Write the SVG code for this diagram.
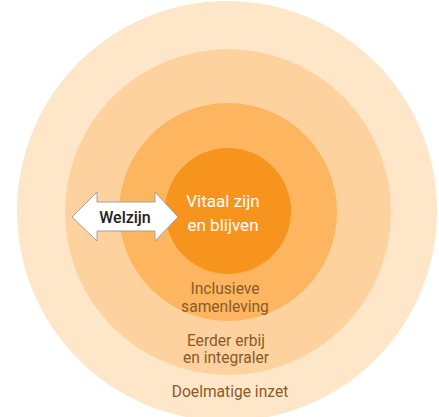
<svg xmlns="http://www.w3.org/2000/svg" width="439" height="417" viewBox="0 0 439 417">
<style>
.lbl{font-family:Roboto,"Liberation Sans",sans-serif;text-anchor:middle}
.brown{fill:#8a5a2c;font-size:15.6px}
.white{fill:#ffffff;font-size:17px}
.dark{fill:#222222;font-size:16px;font-weight:500}
</style>
<rect width="439" height="417" fill="#ffffff"/>
<g id="ring-doelmatige-inzet">
<circle cx="227" cy="211" r="210" fill="#fee6c8"/>
<text class="lbl brown" x="230" y="397">Doelmatige inzet</text>
</g>
<g id="ring-eerder-erbij">
<circle cx="228" cy="212" r="163" fill="#fed29e"/>
<text class="lbl brown" x="226" y="346">Eerder erbij</text>
<text class="lbl brown" x="226" y="363">en integraler</text>
</g>
<g id="ring-inclusieve-samenleving">
<circle cx="228" cy="212" r="109" fill="#fdb65f"/>
<text class="lbl brown" x="225" y="294">Inclusieve</text>
<text class="lbl brown" x="225" y="312">samenleving</text>
</g>
<g id="core-vitaal">
<circle cx="228" cy="211" r="63" fill="#f7941e"/>
<text class="lbl white" x="223" y="207">Vitaal zijn</text>
<text class="lbl white" x="223" y="231">en blijven</text>
</g>
<g id="welzijn">
<polygon points="72,217 97,192 97,202 155,202 155,192 178,217 155,241 155,231 97,231 97,241" fill="#ffffff" stroke="#a0a0a0" stroke-width="1"/>
<text class="lbl dark" x="125" y="223">Welzijn</text>
</g>
</svg>
